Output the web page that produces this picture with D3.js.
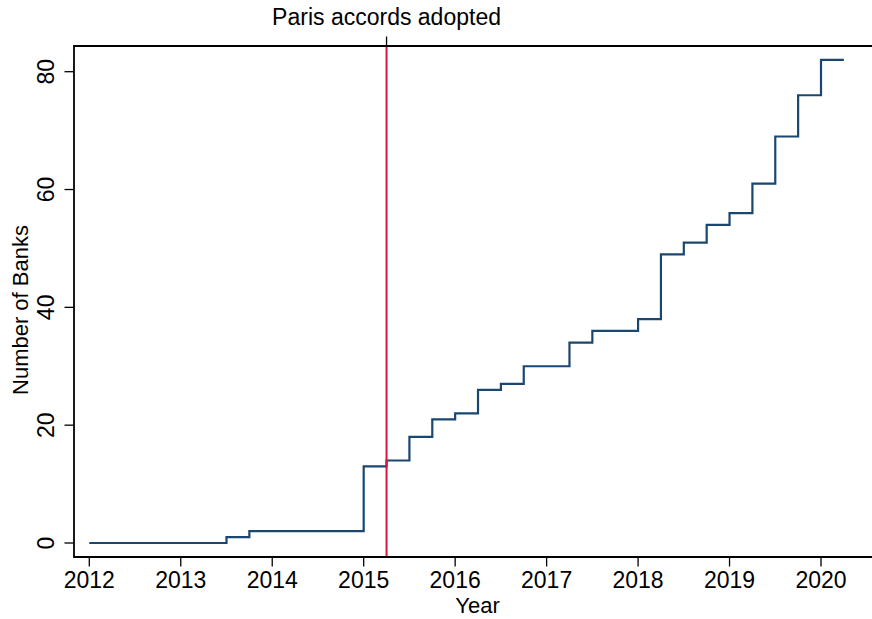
<!DOCTYPE html>
<html>
<head>
<meta charset="utf-8">
<script src="https://cdn.jsdelivr.net/npm/d3@7"></script>
<style>
  html, body { margin: 0; padding: 0; background: #fff; }
  svg { display: block; font-family: "Liberation Sans", Arial, sans-serif; }
</style>
</head>
<body>
<svg id="chart" width="872" height="619"></svg>
<script>
// Data (step dates in fractional years, cumulative number of banks)
const stepYears = [2012, 2013.5, 2013.75, 2015, 2015.25, 2015.5, 2015.75, 2016, 2016.25, 2016.5, 2016.75, 2017.25, 2017.5, 2018, 2018.25, 2018.5, 2018.75, 2019, 2019.25, 2019.5, 2019.75, 2020, 2020.25];
const bankCounts = [0, 1, 2, 13, 14, 18, 21, 22, 26, 27, 30, 34, 36, 38, 49, 51, 54, 56, 61, 69, 76, 82, 82];
const xTickValues = [2012, 2013, 2014, 2015, 2016, 2017, 2018, 2019, 2020];
const yTickValues = [0, 20, 40, 60, 80];
const eventYear = [2015.25];
const eventLabel = ["Paris accords adopted"];
const xTitle = "Year";
const yTitle = "Number of Banks";

const svg = d3.select("#chart");
const frame = { left: 74, right: 872, top: 46, bottom: 557 };

const x = d3.scaleLinear().domain([2012, 2020]).range([89.3, 821.0]);
const y = d3.scaleLinear().domain([0, 80]).range([543, 71.7]);

const tickFont = 23;
const titleFont = 22;
const axisColor = "#000";

// Frame lines
svg.append("line").attr("x1", frame.left).attr("x2", frame.right)
  .attr("y1", frame.bottom).attr("y2", frame.bottom)
  .attr("stroke", axisColor).attr("stroke-width", 1.8);
svg.append("line").attr("x1", frame.left).attr("x2", frame.right)
  .attr("y1", frame.top).attr("y2", frame.top)
  .attr("stroke", axisColor).attr("stroke-width", 1.8);
svg.append("line").attr("x1", frame.left).attr("x2", frame.left)
  .attr("y1", frame.top - 0.9).attr("y2", frame.bottom + 0.9)
  .attr("stroke", axisColor).attr("stroke-width", 1.8);

const xt = svg.append("g");
xTickValues.forEach(v => {
  xt.append("line").attr("x1", x(v)).attr("x2", x(v))
    .attr("y1", frame.bottom).attr("y2", frame.bottom + 9.5)
    .attr("stroke", axisColor).attr("stroke-width", 1.3);
  xt.append("text").attr("x", x(v)).attr("y", 588)
    .attr("text-anchor", "middle").attr("font-size", tickFont)
    .attr("fill", "#000").text(v);
});

const yt = svg.append("g");
yTickValues.forEach(v => {
  yt.append("line").attr("x1", frame.left - 9.5).attr("x2", frame.left)
    .attr("y1", y(v)).attr("y2", y(v))
    .attr("stroke", axisColor).attr("stroke-width", 1.3);
  yt.append("text")
    .attr("transform", `translate(53.5,${y(v)}) rotate(-90)`)
    .attr("text-anchor", "middle").attr("font-size", tickFont)
    .attr("fill", "#000").text(v);
});

// Axis titles
svg.append("text").attr("x", 477.5).attr("y", 613)
  .attr("text-anchor", "middle").attr("font-size", titleFont)
  .attr("fill", "#000").text(xTitle);
svg.append("text")
  .attr("transform", `translate(28,310) rotate(-90)`)
  .attr("text-anchor", "middle").attr("font-size", titleFont)
  .attr("fill", "#000").text(yTitle);

// Step line
const line = d3.line()
  .x((d, i) => x(stepYears[i]))
  .y(d => y(d))
  .curve(d3.curveStepAfter);
svg.append("path").datum(bankCounts)
  .attr("d", line)
  .attr("fill", "none").attr("stroke", "#1a476f")
  .attr("stroke-width", 2.2).attr("stroke-linejoin", "miter");

// Event line and top axis label
eventYear.forEach((ev, i) => {
  svg.append("line").attr("x1", x(ev)).attr("x2", x(ev))
    .attr("y1", frame.top + 1).attr("y2", frame.bottom - 1)
    .attr("stroke", "#d6163d").attr("stroke-width", 2);
  svg.append("line").attr("x1", x(ev)).attr("x2", x(ev))
    .attr("y1", frame.top - 9.5).attr("y2", frame.top)
    .attr("stroke", axisColor).attr("stroke-width", 1.3);
  svg.append("text").attr("x", x(ev)).attr("y", 25)
    .attr("text-anchor", "middle").attr("font-size", tickFont)
    .attr("fill", "#000").text(eventLabel[i]);
});
</script>
</body>
</html>
